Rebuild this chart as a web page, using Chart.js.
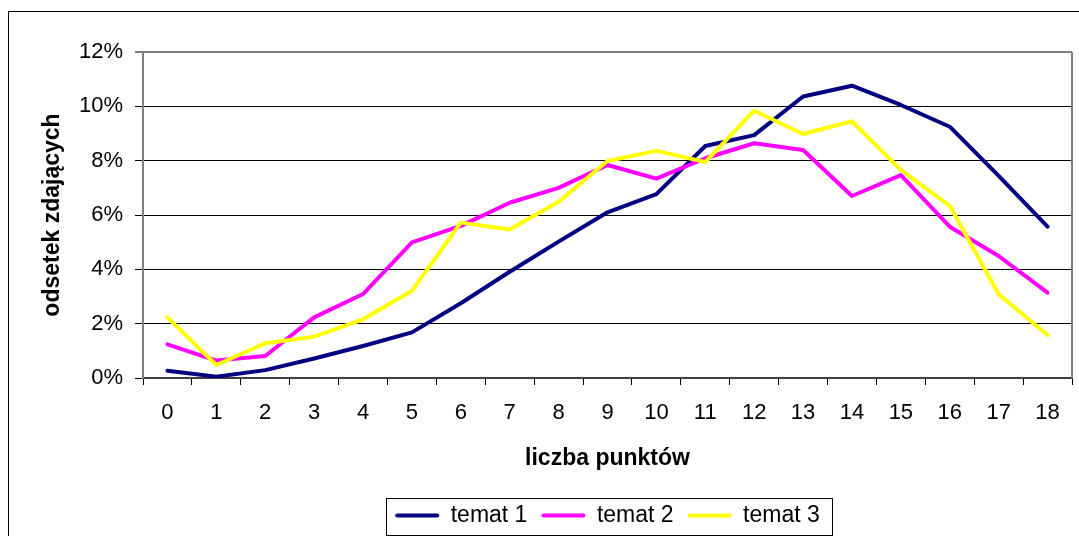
<!DOCTYPE html>
<html>
<head>
<meta charset="utf-8">
<script src="https://cdn.jsdelivr.net/npm/chart.js@4"></script>
<style>
  html, body { margin: 0; padding: 0; background: #fff; }
  #wykres { display: block; }
</style>
</head>
<body>
<canvas id="wykres" width="1079" height="536"></canvas>
<script>
const punkty = ["0", "1", "2", "3", "4", "5", "6", "7", "8", "9", "10", "11", "12", "13", "14", "15", "16", "17", "18"];

// odsetek zdających w %
const temat1 = [0.27, 0.05, 0.29, 0.72, 1.18, 1.68, 2.75, 3.91, 5.02, 6.1, 6.77, 8.54, 8.94, 10.36, 10.76, 10.05, 9.25, 7.44, 5.57];
const temat2 = [1.24, 0.64, 0.81, 2.23, 3.09, 4.99, 5.6, 6.45, 7.0, 7.84, 7.34, 8.09, 8.64, 8.39, 6.7, 7.47, 5.57, 4.49, 3.14];
const temat3 = [2.23, 0.48, 1.28, 1.52, 2.16, 3.21, 5.72, 5.47, 6.49, 7.99, 8.36, 7.95, 9.84, 8.98, 9.45, 7.66, 6.34, 3.08, 1.58];

const osY = [0, 2, 4, 6, 8, 10, 12];

const font = "'Liberation Sans', Arial, sans-serif";

// ramka całego wykresu + prawa krawędź obszaru
const ramki = {
  id: "ramki",
  beforeDraw(chart) {
    const ctx = chart.ctx;
    ctx.save();
    ctx.fillStyle = "#fff";
    ctx.fillRect(0, 0, chart.width, chart.height);
    ctx.strokeStyle = "#000";
    ctx.lineWidth = 1;
    ctx.strokeRect(8.5, 11.5, 1200, 700);
    ctx.restore();
  },
  beforeDatasetsDraw(chart) {
    const a = chart.chartArea;
    const ctx = chart.ctx;
    ctx.save();
    ctx.strokeStyle = "#808080";
    ctx.lineWidth = 2;
    ctx.beginPath();
    ctx.moveTo(a.right, a.top);
    ctx.lineTo(a.right, a.bottom);
    ctx.stroke();
    ctx.restore();
  },
  afterDraw(chart) {
    const hb = chart.legend.legendHitBoxes;
    if (!hb || !hb.length) return;
    const last = hb[hb.length - 1];
    const x0 = Math.round(hb[0].left) - 9;
    const x1 = Math.round(last.left + last.width) + 12;
    const yc = hb[0].top + hb[0].height / 2;
    const ctx = chart.ctx;
    ctx.save();
    ctx.strokeStyle = "#000";
    ctx.lineWidth = 1;
    ctx.strokeRect(x0 + 0.5, Math.round(yc - 18) + 0.5, x1 - x0, 37);
    ctx.restore();
  },
};

function seria(nazwa, dane, kolor, order) {
  return {
    label: nazwa,
    data: dane,
    borderColor: kolor,
    backgroundColor: kolor,
    borderWidth: 4,
    pointRadius: 0,
    tension: 0,
    borderCapStyle: "round",
    borderJoinStyle: "round",
    order: order,
  };
}

new Chart(document.getElementById("wykres"), {
  type: "line",
  data: {
    labels: punkty,
    datasets: [
      seria("temat 1", temat1, "#000080", 2),
      seria("temat 2", temat2, "#FF00FF", 1),
      seria("temat 3", temat3, "#FFFF00", 0),
    ],
  },
  plugins: [ramki],
  options: {
    responsive: false,
    animation: false,
    devicePixelRatio: 1,
    layout: { padding: { top: 52, right: 7, left: 0, bottom: -1 } },
    plugins: {
      tooltip: { enabled: false },
      legend: {
        position: "bottom",
        fullSize: false,
        labels: {
          color: "#000",
          font: { family: font, size: 23 },
          boxWidth: 44,
          boxHeight: 4,
          padding: 14,
          sort: (a, b) => a.datasetIndex - b.datasetIndex,
          generateLabels: (chart) =>
            Chart.defaults.plugins.legend.labels.generateLabels(chart).map((l) => ({
              ...l,
              lineWidth: 0,
              fillStyle: l.strokeStyle,
              borderRadius: 2,
            })),
        },
      },
    },
    scales: {
      x: {
        type: "category",
        offset: true,
        grid: {
          offset: true,
          drawOnChartArea: false,
          drawTicks: true,
          tickLength: 7,
          color: "#000",
        },
        border: { color: "#404040", width: 2 },
        ticks: {
          color: "#000",
          font: { family: font, size: 22 },
          padding: 15,
          maxRotation: 0,
          autoSkip: false,
        },
        title: {
          display: true,
          text: "liczba punktów",
          color: "#000",
          font: { family: font, size: 23, weight: "bold" },
          padding: { top: 0, bottom: 18 },
        },
        afterFit: (s) => {
          s.height = 112;
        },
      },
      y: {
        min: 0,
        max: 12,
        afterBuildTicks: (s) => {
          s.ticks = osY.map((v) => ({ value: v }));
        },
        grid: {
          color: (c) => (c.tick && c.tick.value === 12 ? "#808080" : "#000"),
          lineWidth: (c) => (c.tick && c.tick.value === 12 ? 2 : 1),
          tickColor: "#000",
          tickWidth: 1,
          tickLength: 8,
        },
        border: { color: "#808080", width: 2 },
        ticks: {
          color: "#000",
          font: { family: font, size: 22 },
          padding: 12,
          callback: (v) => v + "%",
        },
        title: {
          display: true,
          text: "odsetek zdających",
          color: "#000",
          font: { family: font, size: 23, weight: "bold" },
          padding: { top: 39, bottom: 0 },
        },
        afterFit: (s) => {
          s.width = 143;
        },
      },
    },
  },
});
</script>
</body>
</html>
